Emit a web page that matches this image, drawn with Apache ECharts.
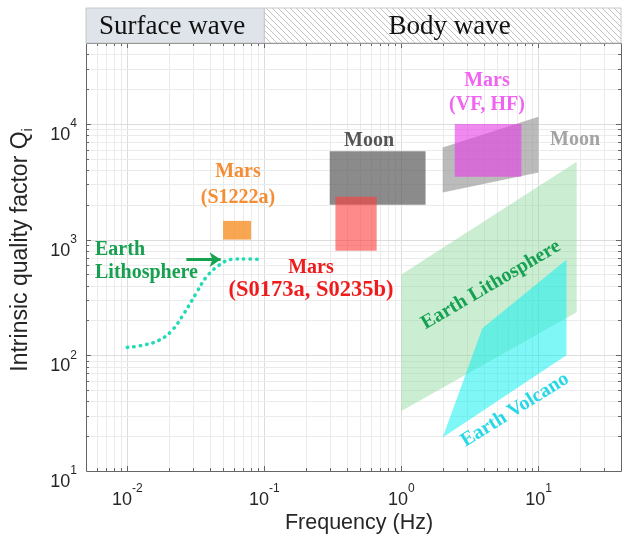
<!DOCTYPE html>
<html>
<head>
<meta charset="utf-8">
<script src="https://cdn.jsdelivr.net/npm/echarts@6.0.0/dist/echarts.min.js"></script>
<style>
  html, body { margin: 0; padding: 0; background: #fff; }
  #chart { width: 625px; height: 536px; }
</style>
</head>
<body>
<div id="chart"></div>
<script>
// axis ranges
const freqRange = [0.005, 40];
const qRange = [10, 50000];
const bandSplit = 0.1; // surface wave / body wave boundary (Hz)

// Earth lithosphere, surface wave curve
const curveFreq = [0.01, 0.0129, 0.0171, 0.0212, 0.026, 0.0318, 0.0376, 0.0467, 0.058, 0.0733, 0.094];
const curveQ = [117, 122, 135, 164, 231, 343, 472, 600, 675, 680, 675];

// arrow towards the curve
const arrowFreq = [0.027, 0.048];
const arrowQ = [672, 672];

// regions (polygon corners, freq / Q)
const earthLithoFreq = [1, 1, 19, 19];
const earthLithoQ = [33, 500, 4700, 235];
const earthVolcFreq = [2, 3.9, 16, 16];
const earthVolcQ = [19.5, 171, 670, 100];
const marsS1222aFreq = [0.05, 0.05, 0.08, 0.08];
const marsS1222aQ = [1000, 1450, 1450, 1000];
const moonLowFreq = [0.3, 0.3, 1.5, 1.5];
const moonLowQ = [2000, 5800, 5800, 2000];
const marsLowFreq = [0.33, 0.33, 0.66, 0.66];
const marsLowQ = [800, 2350, 2350, 800];
const moonHighFreq = [2, 2, 10, 10];
const moonHighQ = [2550, 6250, 11500, 3800];
const marsHighFreq = [2.45, 2.45, 7.5, 7.5];
const marsHighQ = [3500, 10000, 10000, 3500];

const regions = [
  { f: earthLithoFreq, q: earthLithoQ, color: 'rgba(140,215,155,0.45)' },
  { f: earthVolcFreq, q: earthVolcQ, color: 'rgba(0,240,240,0.5)' },
  { f: marsS1222aFreq, q: marsS1222aQ, color: 'rgba(247,150,50,0.85)' },
  { f: moonLowFreq, q: moonLowQ, color: 'rgba(90,90,90,0.7)' },
  { f: marsLowFreq, q: marsLowQ, color: 'rgba(255,60,60,0.6)' },
  { f: moonHighFreq, q: moonHighQ, color: 'rgba(150,150,150,0.65)' },
  { f: marsHighFreq, q: marsHighQ, color: 'rgba(230,60,230,0.6)' }
];

const chart = echarts.init(document.getElementById('chart'));

// hatch for the body wave band
const hatch = document.createElement('canvas');
hatch.width = 6; hatch.height = 6;
const hg = hatch.getContext('2d');
hg.strokeStyle = '#c2c2c2';
hg.lineWidth = 1;
hg.beginPath();
hg.moveTo(0, 0); hg.lineTo(6, 6);
hg.moveTo(-1, 5); hg.lineTo(1, 7);
hg.moveTo(5, -1); hg.lineTo(7, 1);
hg.stroke();

function isDecade(v) {
  const e = Math.log10(v);
  return Math.abs(e - Math.round(e)) < 1e-6;
}
function powLabel(v) {
  if (!isDecade(v)) return '';
  return '{b|10}{s|' + Math.round(Math.log10(v)) + '}';
}

// grid lines, ticks and box, drawn through the axes
function renderGrid(params, api) {
  const lines = [];
  const ticks = [];
  const lb = api.coord([freqRange[0], qRange[0]]);
  const rt = api.coord([freqRange[1], qRange[1]]);
  const left = lb[0], bottom = lb[1], right = rt[0], top = rt[1];
  for (let k = -3; k <= 1; k++) {
    for (let m = 1; m <= 9; m++) {
      const v = m * Math.pow(10, k);
      if (v <= freqRange[0] * 1.0001 || v >= freqRange[1] * 0.9999) continue;
      const x = Math.round(api.coord([v, qRange[0]])[0]) + 0.5;
      lines.push({ type: 'line', shape: { x1: x, y1: top, x2: x, y2: bottom },
        style: { stroke: m === 1 ? '#dcdcdc' : '#ebebeb', lineWidth: 1 } });
      const len = m === 1 ? 5 : 3;
      ticks.push({ type: 'line', shape: { x1: x, y1: bottom, x2: x, y2: bottom - len }, style: { stroke: '#666', lineWidth: 1 } });
      ticks.push({ type: 'line', shape: { x1: x, y1: top, x2: x, y2: top + len }, style: { stroke: '#666', lineWidth: 1 } });
    }
  }
  for (let k = 1; k <= 4; k++) {
    for (let m = 1; m <= 9; m++) {
      const v = m * Math.pow(10, k);
      if (v <= qRange[0] * 1.0001 || v >= qRange[1] * 0.9999) continue;
      const y = Math.round(api.coord([freqRange[0], v])[1]) + 0.5;
      lines.push({ type: 'line', shape: { x1: left, y1: y, x2: right, y2: y },
        style: { stroke: m === 1 ? '#dcdcdc' : '#ebebeb', lineWidth: 1 } });
      const len = m === 1 ? 5 : 3;
      ticks.push({ type: 'line', shape: { x1: left, y1: y, x2: left + len, y2: y }, style: { stroke: '#666', lineWidth: 1 } });
      ticks.push({ type: 'line', shape: { x1: right, y1: y, x2: right - len, y2: y }, style: { stroke: '#666', lineWidth: 1 } });
    }
  }
  ticks.push({ type: 'rect', shape: { x: Math.round(left) + 0.5, y: Math.round(top) + 0.5, width: Math.round(right - left), height: Math.round(bottom - top) },
    style: { fill: null, stroke: '#666', lineWidth: 1 } });
  return { type: 'group', children: lines.concat(ticks) };
}

function renderRegion(params, api) {
  const r = regions[api.value(2)];
  const pts = r.f.map(function (f, j) { return api.coord([f, r.q[j]]); });
  return { type: 'polygon', shape: { points: pts }, style: { fill: r.color, stroke: null } };
}

function renderBand(params, api) {
  const a = api.coord([freqRange[0], qRange[1]]);
  const b = api.coord([bandSplit, qRange[1]]);
  const c = api.coord([freqRange[1], qRange[1]]);
  const h = 35;
  const top = a[1] - h;
  const font = '27px "Liberation Serif", "Times New Roman", serif';
  return {
    type: 'group',
    children: [
      { type: 'rect', shape: { x: a[0], y: top, width: b[0] - a[0], height: h }, style: { fill: '#dfe4eb', stroke: '#c8c8c8' } },
      { type: 'rect', shape: { x: b[0], y: top, width: c[0] - b[0], height: h }, style: { fill: { image: hatch, repeat: 'repeat' }, stroke: '#c8c8c8' } },
      { type: 'text', x: (a[0] + b[0]) / 2 - 3, y: top + h / 2 + 1,
        style: { text: 'Surface wave', font: font, fill: '#111', align: 'center', verticalAlign: 'middle' } },
      { type: 'text', x: (b[0] + c[0]) / 2 + 7, y: top + h / 2 + 1,
        style: { text: 'Body wave', font: font, fill: '#111', align: 'center', verticalAlign: 'middle' } }
    ]
  };
}

const serifBold = 'bold 20px "Liberation Serif", "Times New Roman", serif';
function note(text, x, y, color, extra) {
  return Object.assign({
    type: 'text', x: x, y: y, silent: true, z: 10,
    style: { text: text, font: serifBold, fill: color, align: 'center', verticalAlign: 'middle', lineHeight: 24 }
  }, extra || {});
}

const option = {
  animation: false,
  backgroundColor: '#fff',
  grid: { left: 86, right: 4, top: 43, bottom: 65, outerBoundsMode: 'none' },
  xAxis: {
    type: 'log', logBase: 10, min: freqRange[0], max: freqRange[1],
    axisLine: { show: false }, axisTick: { show: false }, splitLine: { show: false }, minorTick: { show: false },
    axisLabel: {
      margin: 12, formatter: powLabel, showMinLabel: true, showMaxLabel: true,
      rich: {
        b: { fontSize: 18, fontFamily: 'Liberation Sans', color: '#262626', lineHeight: 26, verticalAlign: 'bottom' },
        s: { fontSize: 12, fontFamily: 'Liberation Sans', color: '#262626', lineHeight: 8, verticalAlign: 'top' }
      }
    }
  },
  yAxis: {
    type: 'log', logBase: 10, min: qRange[0], max: qRange[1],
    axisLine: { show: false }, axisTick: { show: false }, splitLine: { show: false }, minorTick: { show: false },
    axisLabel: {
      margin: 9, formatter: powLabel, padding: [14, 0, 0, 0],
      rich: {
        b: { fontSize: 18, fontFamily: 'Liberation Sans', color: '#262626', lineHeight: 26, verticalAlign: 'bottom' },
        s: { fontSize: 12, fontFamily: 'Liberation Sans', color: '#262626', lineHeight: 8, verticalAlign: 'top' }
      }
    }
  },
  graphic: [
    { type: 'text', x: 359, y: 523, silent: true,
      style: { text: 'Frequency (Hz)', font: '21.5px "Liberation Sans", Arial, sans-serif', fill: '#262626', align: 'center', verticalAlign: 'middle' } },
    { type: 'text', x: 22, y: 250, rotation: Math.PI / 2, silent: true,
      style: {
        text: '{a|Intrinsic quality factor Q}{i|i}', align: 'center', verticalAlign: 'middle',
        rich: {
          a: { fontSize: 23, fontFamily: 'Liberation Sans', fill: '#262626', lineHeight: 26, verticalAlign: 'top' },
          i: { fontSize: 14, fontFamily: 'Liberation Sans', fill: '#262626', lineHeight: 12, verticalAlign: 'bottom' }
        }
      } },
    note('Moon', 369, 141, '#555555'),
    note('Moon', 575, 140, '#a3a3a3'),
    note('Mars\n(VF, HF)', 487, 93, '#f064f0'),
    note('', 238, 185, '#f58d35', { style: { text: 'Mars\n(S1222a)', font: serifBold, fill: '#f58d35', align: 'center', verticalAlign: 'middle', lineHeight: 26 } }),
    note('', 95, 261, '#16a050', { style: { text: 'Earth\nLithosphere', font: serifBold, fill: '#16a050', align: 'left', verticalAlign: 'middle', lineHeight: 23 } }),
    note('', 311, 279, '#ee1c1c', { style: {
      text: '{m|Mars}\n{s|(S0173a, S0235b)}', align: 'center', verticalAlign: 'middle',
      rich: {
        m: { font: serifBold, fill: '#ee1c1c', lineHeight: 22, align: 'center' },
        s: { font: 'bold 22.5px "Liberation Serif", "Times New Roman", serif', fill: '#ee1c1c', lineHeight: 22, align: 'center' }
      } } }),
    note('Earth Lithosphere', 491, 285, '#17a152', { rotation: 30.5 * Math.PI / 180 }),
    note('Earth Volcano', 515, 410, '#27d9e6', { rotation: 32 * Math.PI / 180 })
  ],
  series: [
    {
      type: 'custom', silent: true, renderItem: renderGrid,
      data: [[1, 100]], encode: { x: 0, y: 1 }
    },
    {
      type: 'custom', silent: true, renderItem: renderRegion,
      data: regions.map(function (r, i) { return [r.f[0], r.q[0], i]; }),
      encode: { x: 0, y: 1 }
    },
    {
      type: 'line', silent: true, smooth: 0.4, showSymbol: false,
      data: curveFreq.map(function (f, i) { return [f, curveQ[i]]; }),
      lineStyle: { color: '#22dbb5', width: 3.5, type: [0.5, 6], cap: 'round' }
    },
    {
      type: 'line', silent: true, data: [],
      markLine: {
        silent: true, animation: false, symbol: ['none', 'arrow'], symbolSize: 11,
        label: { show: false },
        lineStyle: { color: '#16a34f', width: 3, type: 'solid' },
        data: [[{ coord: [arrowFreq[0], arrowQ[0]] }, { coord: [arrowFreq[1], arrowQ[1]] }]]
      }
    },
    {
      type: 'custom', silent: true, renderItem: renderBand, clip: false,
      data: [[1, 100]], encode: { x: 0, y: 1 }
    }
  ]
};

chart.setOption(option);
</script>
</body>
</html>
